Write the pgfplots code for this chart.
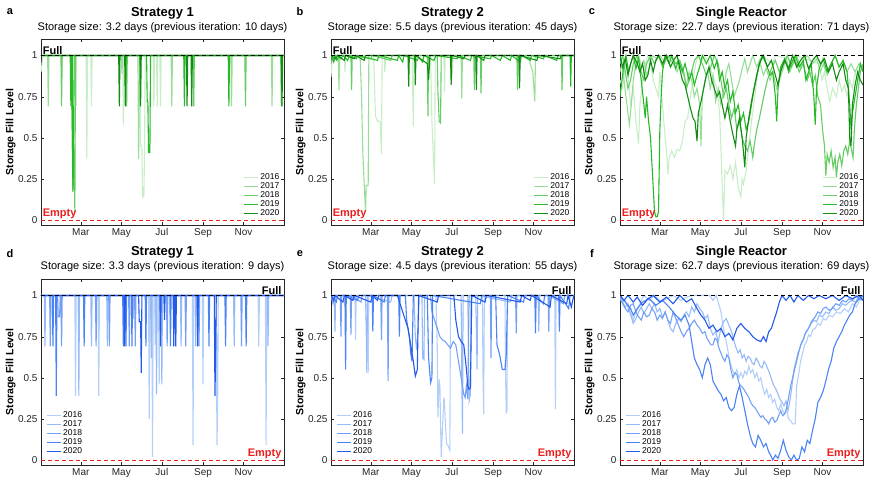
\documentclass[border=0pt]{standalone}
\usepackage{fontspec}
\setmainfont{Liberation Sans}
\usepackage{pgfplots}
\pgfplotsset{compat=1.18}

\definecolor{g16}{RGB}{200,238,200}
\definecolor{g17}{RGB}{150,222,150}
\definecolor{g18}{RGB}{100,205,100}
\definecolor{g19}{RGB}{40,185,40}
\definecolor{g20}{RGB}{20,140,20}
\definecolor{b16}{RGB}{178,207,250}
\definecolor{b17}{RGB}{150,186,248}
\definecolor{b18}{RGB}{115,160,245}
\definecolor{b19}{RGB}{75,130,245}
\definecolor{b20}{RGB}{35,90,235}
\definecolor{emptyred}{RGB}{235,30,30}
\definecolor{axgray}{RGB}{38,38,38}

\pgfplotsset{
  panel/.style={
    scale only axis, width=243pt, height=186pt,
    xmin=0, xmax=366, ymin=-0.03, ymax=1.1,
    xtick={60,121,182,244,305}, xticklabels={Mar,May,Jul,Sep,Nov},
    ytick={0,0.25,0.5,0.75,1}, yticklabels={0,0.25,0.5,0.75,1},
    tick align=inside, major tick length=3pt,
    axis line style={draw=axgray}, tick style={axgray},
    tick label style={font=\fontsize{10}{12}\selectfont, text=axgray},
    ylabel={\textbf{Storage Fill Level}},
    ylabel style={font=\fontsize{10.5}{12}\selectfont, at={(rel axis cs:-0.125,0.5)}, anchor=center},
    every axis plot/.append style={line width=1.1pt},
    legend cell align=left,
    legend image code/.code={\draw[#1, line width=1.1pt] (0pt,0pt) -- (14pt,0pt);},
    legend style={draw=none, fill=none, font=\fontsize{8.5}{8.5}\selectfont,
      row sep=-2.4pt, inner sep=0pt},
  },
  legR/.style={legend style={at={(0.99,0.03)}, anchor=south east}},
  legL/.style={legend style={at={(0.02,0.04)}, anchor=south west}},
  fullline/.style={black, dash pattern=on 4pt off 3pt, line width=1pt, forget plot},
  emptyline/.style={emptyred, dash pattern=on 4pt off 3pt, line width=1pt, forget plot},
}

\begin{document}
\begin{tikzpicture}
\path[use as bounding box] (0,0) rectangle (879pt,482pt);

% ---------------- a: Strategy 1 (green)
\begin{axis}[panel, legR, at={(41pt,257pt)}, anchor=south west]
\addplot[g16] coordinates {(0,0.9)(3,1)(52,1)(53,0.69)(54,1)(68,1)(69,0.37)(70,1)(75,1)(76,0.69)(77,1)(123,1)(124,0.58)(125,1)(149,1)(150,0.45)(152,0.45)(153,0.14)(155,0.14)(156,0.45)(157,1)(169,1)(170,0.69)(171,1)(174,1)(175,0.69)(176,1)(179,1)(180,0.69)(181,1)(366,1)};
\addplot[g17] coordinates {(0,1)(10,1)(11,0.69)(12,1)(121,1)(122,0.89)(123,1)(146,1)(147,0.37)(148,0.72)(149,1)(196,1)(197,0.69)(198,1)(286,1)(287,0.69)(288,1)(347,1)(348,0.69)(349,1)(366,1)};
\addplot[g18] coordinates {(0,1)(30,1)(31,0.69)(32,1)(45,1)(46,0.8)(47,0.47)(48,0.18)(49,0.46)(50,0.33)(51,0.05)(52,1)(128,1)(129,0.69)(130,1)(229,1)(230,0.69)(231,1)(307,1)(308,0.69)(309,1)(361,1)(362,0.69)(363,1)(366,1)};
\addplot[g19] coordinates {(0,1)(44,1)(45,0.69)(46,1)(47,1)(48,0.17)(49,0.33)(50,1)(159,1)(160,0.72)(161,0.72)(162,0.41)(164,0.41)(165,1)(215,1)(216,0.69)(217,1)(282,1)(283,0.69)(284,1)(366,1)};
\addplot[g20] coordinates {(0,1)(117,1)(118,0.69)(119,1)(126,1)(127,0.69)(128,1)(149,1)(150,0.69)(151,1)(219,1)(220,0.69)(221,1)(226,1)(227,0.69)(228,1)(362,1)(363,0.69)(364,1)(366,1)};
\addplot[fullline] coordinates {(0,1)(366,1)};
\addplot[emptyline] coordinates {(0,0)(366,0)};
\legend{2016,2017,2018,2019,2020}
\node[anchor=south west, inner sep=1pt, font=\bfseries\fontsize{11}{12}\selectfont] at (axis cs:1,1) {Full};
\node[anchor=south west, inner sep=1pt, font=\bfseries\fontsize{11}{12}\selectfont, text=emptyred] at (axis cs:1,0) {Empty};
\end{axis}

% ---------------- b: Strategy 2 (green)
\begin{axis}[panel, legR, at={(331pt,257pt)}, anchor=south west]
\addplot[g16] coordinates {(0,0.87)(2,1)(20,1)(21,0.9)(22,1)(64,1)(65,0.9)(67,0.63)(70,0.6)(74,0.6)(76,0.4)(77,1)(80,1)(81,0.9)(83,1)(122,1)(123,0.8)(124,0.57)(125,1)(150,1)(152,0.6)(154,0.4)(156,0.22)(157,1)(170,1)(171,0.78)(172,1)(180,1)(181,0.85)(183,0.9)(184,1)(366,1)};
\addplot[g17] coordinates {(0,1)(11,1)(12,0.79)(13,1)(42,1)(44,0.98)(46,0.75)(48,0.4)(50,0.22)(52,0.05)(53,0.21)(56,0.21)(57,1)(196,1)(197,0.74)(198,1)(298,1)(300,0.95)(304,0.9)(307,0.72)(308,1)(366,1)};
\addplot[g18] coordinates {(0,1)(5,0.97)(8,1)(30,1)(31,0.79)(32,1)(60,0.98)(62,1)(90,0.97)(92,1)(145,1)(146,0.63)(147,1)(160,1)(161,0.78)(163,0.6)(165,0.59)(166,1)(215,1)(216,0.79)(217,1)(225,1)(226,0.77)(227,1)(280,1)(281,0.79)(282,1)(347,1)(348,0.79)(349,1)(366,1)};
\addplot[g19] coordinates {(0,1)(4,0.96)(6,1)(9,0.97)(12,1)(15,0.98)(18,1)(25,0.97)(28,1)(38,0.98)(40,1)(70,0.97)(72,1)(100,0.97)(102,1)(108,0.96)(110,1)(130,0.97)(132,0.99)(138,0.96)(140,1)(155,0.97)(158,1)(190,0.98)(192,1)(210,0.97)(212,1)(240,0.98)(242,1)(255,0.97)(258,1)(270,0.97)(272,1)(285,0.96)(287,1)(300,0.97)(302,1)(320,0.98)(322,1)(340,0.97)(342,1)(360,1)(361,0.81)(362,1)(366,1)};
\addplot[g20] coordinates {(0,1)(7,0.98)(10,1)(20,0.97)(22,1)(35,0.98)(37,1)(50,0.97)(52,1)(116,1)(117,0.81)(118,1)(126,1)(127,0.82)(128,1)(145,0.95)(147,0.85)(149,1)(180,1)(181,0.82)(182,1)(200,0.98)(202,1)(218,1)(219,0.79)(220,1)(230,0.97)(232,1)(283,1)(284,0.8)(285,1)(310,0.97)(312,1)(345,0.98)(347,1)(366,1)};
\addplot[fullline] coordinates {(0,1)(366,1)};
\addplot[emptyline] coordinates {(0,0)(366,0)};
\legend{2016,2017,2018,2019,2020}
\node[anchor=south west, inner sep=1pt, font=\bfseries\fontsize{11}{12}\selectfont] at (axis cs:1,1) {Full};
\node[anchor=south west, inner sep=1pt, font=\bfseries\fontsize{11}{12}\selectfont, text=emptyred] at (axis cs:1,0) {Empty};
\end{axis}

% ---------------- c: Single Reactor (green)
\begin{axis}[panel, legR, at={(620pt,257pt)}, anchor=south west]
\addplot[g16] coordinates {(0,0.85)(4,0.8)(8,0.95)(12,0.9)(16,0.7)(20,0.8)(24,0.6)(28,0.46)(30,0.7)(34,0.85)(38,0.95)(42,1)(46,0.95)(50,0.85)(54,0.8)(58,0.75)(60,0.9)(62,0.8)(64,0.7)(66,0.6)(68,0.5)(70,0.42)(72,0.28)(74,0.38)(78,0.42)(82,0.38)(86,0.43)(90,0.42)(94,0.48)(98,0.6)(102,0.62)(106,0.75)(110,0.85)(114,0.95)(118,1)(122,0.95)(126,1)(132,0.97)(138,0.9)(142,0.85)(146,0.8)(150,0.65)(152,0.45)(154,0.2)(156,0)(158,0.3)(162,0.28)(166,0.33)(170,0.25)(174,0.35)(178,0.2)(182,0.14)(184,0.25)(186,0.22)(190,0.3)(194,0.45)(198,0.6)(202,0.72)(206,0.85)(210,0.95)(214,1)(230,0.95)(234,1)(260,0.97)(264,1)(300,0.95)(304,0.85)(308,0.9)(312,0.8)(316,0.72)(320,0.8)(326,0.75)(330,0.85)(334,0.78)(338,0.82)(342,0.75)(346,0.85)(350,0.8)(354,0.9)(358,0.85)(362,0.95)(366,0.9)};
\addplot[g17] coordinates {(0,0.9)(3,0.95)(6,0.85)(9,0.75)(12,0.65)(14,0.58)(17,0.7)(20,0.85)(24,0.95)(28,1)(32,0.93)(36,0.97)(40,0.88)(44,0.92)(48,1)(56,0.98)(60,1)(66,0.97)(72,1)(80,0.95)(86,0.9)(90,0.95)(96,0.88)(100,0.82)(104,0.9)(108,0.85)(112,0.75)(116,0.8)(120,0.7)(122,0.45)(124,0.75)(128,0.85)(132,0.9)(136,0.8)(140,0.88)(144,0.72)(148,0.8)(152,0.7)(156,0.78)(160,0.9)(164,0.95)(168,0.85)(172,0.75)(176,0.8)(180,0.85)(184,0.92)(188,0.98)(192,0.9)(196,0.95)(200,1)(206,0.93)(210,0.97)(216,0.88)(220,0.92)(226,0.85)(230,0.9)(236,0.8)(240,0.85)(246,0.92)(250,0.98)(256,0.9)(260,0.95)(266,1)(272,0.93)(276,0.97)(282,1)(290,0.95)(296,0.98)(302,0.9)(306,0.95)(312,0.88)(318,0.95)(324,1)(330,0.93)(336,0.97)(342,0.9)(348,0.95)(354,0.9)(360,0.95)(366,0.92)};
\addplot[g18] coordinates {(0,0.95)(4,1)(8,0.9)(12,0.8)(16,0.85)(20,0.95)(26,1)(32,0.9)(36,0.85)(40,0.95)(46,1)(52,0.95)(58,1)(64,0.93)(70,0.98)(76,1)(84,0.95)(90,0.97)(96,0.9)(100,0.8)(104,0.85)(108,0.9)(112,0.97)(118,1)(124,0.95)(130,0.88)(136,0.92)(142,1)(148,0.95)(152,0.85)(156,0.75)(160,0.8)(164,0.7)(168,0.62)(172,0.68)(176,0.55)(180,0.6)(184,0.5)(188,0.45)(192,0.42)(196,0.48)(200,0.38)(202,0.45)(206,0.55)(210,0.62)(214,0.7)(218,0.78)(222,0.85)(228,0.92)(234,0.97)(240,0.9)(246,0.95)(252,1)(258,0.93)(264,0.97)(270,0.9)(276,0.95)(282,0.85)(286,0.9)(290,0.82)(294,0.88)(298,0.75)(302,0.7)(305,0.55)(308,0.45)(310,0.27)(312,0.4)(315,0.35)(318,0.42)(321,0.32)(324,0.38)(326,0.26)(328,0.35)(331,0.4)(334,0.33)(337,0.42)(340,0.45)(343,0.4)(346,0.48)(349,0.42)(351,0.38)(353,0.55)(356,0.7)(359,0.8)(362,0.9)(366,0.95)};
\addplot[g19] coordinates {(0,0.75)(3,0.85)(6,0.95)(9,1)(13,0.9)(16,0.95)(20,1)(24,0.92)(28,0.98)(32,0.85)(36,0.7)(38,0.62)(40,0.75)(43,0.6)(46,0.5)(48,0.35)(50,0.2)(52,0.05)(54,0.02)(56,0.02)(58,0.05)(60,0.55)(62,0.75)(64,0.9)(68,1)(74,0.95)(78,1)(84,0.92)(88,0.97)(94,0.9)(98,0.95)(104,0.85)(108,0.9)(112,0.82)(116,0.88)(120,0.93)(124,1)(130,0.95)(136,1)(142,0.92)(146,0.97)(150,0.85)(154,0.9)(158,0.8)(162,0.85)(166,0.72)(170,0.78)(174,0.65)(178,0.7)(182,0.6)(186,0.65)(190,0.55)(194,0.6)(198,0.7)(202,0.8)(206,0.88)(210,0.95)(214,1)(220,0.95)(226,0.88)(230,0.9)(234,0.75)(236,0.6)(238,0.8)(242,0.93)(248,0.98)(254,0.9)(258,0.95)(264,1)(270,0.93)(276,0.97)(280,0.85)(284,0.9)(288,0.95)(292,0.75)(294,0.58)(296,0.8)(300,0.92)(306,0.98)(312,0.9)(318,0.95)(324,1)(330,0.93)(336,0.97)(342,0.9)(346,0.7)(348,0.55)(350,0.65)(354,0.75)(358,0.85)(362,0.95)(366,0.9)};
\addplot[g20] coordinates {(0,1)(4,0.93)(8,0.98)(12,0.88)(16,0.95)(20,1)(26,0.95)(30,0.9)(34,0.95)(38,0.85)(42,0.88)(46,0.97)(50,0.9)(54,0.97)(58,1)(64,0.95)(70,1)(76,0.93)(82,0.98)(86,1)(90,0.92)(94,0.85)(98,0.82)(102,0.75)(106,0.68)(110,0.62)(113,0.6)(116,0.48)(118,0.65)(122,0.72)(126,0.8)(130,0.88)(134,0.93)(138,0.85)(142,0.8)(146,0.75)(150,0.78)(154,0.7)(158,0.62)(162,0.7)(166,0.6)(170,0.52)(174,0.45)(176,0.55)(180,0.62)(184,0.5)(188,0.32)(190,0.5)(194,0.62)(198,0.72)(202,0.8)(206,0.88)(210,0.95)(216,1)(222,0.93)(228,0.97)(234,0.88)(238,0.82)(242,0.9)(248,0.97)(254,0.92)(260,1)(266,0.93)(272,0.97)(278,1)(284,0.92)(290,0.97)(296,1)(302,0.95)(308,0.98)(314,0.9)(320,0.95)(326,0.85)(330,0.9)(336,0.95)(340,0.85)(344,0.8)(346,0.5)(348,0.45)(350,0.7)(354,0.82)(358,0.9)(362,0.85)(366,0.82)};
\addplot[fullline] coordinates {(0,1)(366,1)};
\addplot[emptyline] coordinates {(0,0)(366,0)};
\legend{2016,2017,2018,2019,2020}
\node[anchor=south west, inner sep=1pt, font=\bfseries\fontsize{11}{12}\selectfont] at (axis cs:1,1) {Full};
\node[anchor=south west, inner sep=1pt, font=\bfseries\fontsize{11}{12}\selectfont, text=emptyred] at (axis cs:1,0) {Empty};
\end{axis}

% ---------------- d: Strategy 1 (blue)
\begin{axis}[panel, legL, at={(41pt,17pt)}, anchor=south west]
\addplot[b16] coordinates {(0,1)(51,1)(52,0.39)(53,1)(86,1)(87,0.39)(88,1)(162,1)(163,0.25)(164,1)(167,1)(168,0.02)(169,1)(171,1)(172,0.7)(173,1)(177,1)(178,0.46)(179,1)(228,1)(229,0.09)(230,1)(243,1)(244,0.46)(245,1)(264,1)(265,0.09)(266,0.3)(267,1)(327,1)(328,0.69)(329,1)(338,1)(339,0.09)(340,1)(366,1)};
\addplot[b17] coordinates {(0,1)(5,1)(6,0.69)(7,1)(56,1)(57,0.39)(58,1)(75,1)(76,0.69)(77,1)(99,1)(100,0.69)(101,1)(138,1)(139,0.86)(140,1)(165,1)(166,0.62)(167,1)(173,1)(174,0.4)(175,1)(181,1)(182,0.46)(183,1)(210,1)(211,0.69)(212,1)(232,1)(233,0.69)(234,1)(290,1)(291,0.69)(292,1)(341,1)(342,0.69)(343,1)(366,1)};
\addplot[b18] coordinates {(0,1)(13,1)(14,0.69)(15,1)(25,1)(26,0.87)(28,0.87)(29,1)(30,1)(31,0.69)(32,1)(82,1)(83,0.69)(84,1)(102,1)(103,0.69)(104,1)(132,1)(133,0.69)(134,1)(141,1)(142,0.69)(143,1)(189,1)(190,0.69)(191,1)(217,1)(218,0.69)(219,1)(237,1)(238,0.69)(239,1)(301,1)(302,0.69)(303,1)(366,1)};
\addplot[b19] coordinates {(0,1)(17,1)(18,0.69)(19,1)(22,1)(23,0.39)(24,1)(64,1)(65,0.69)(66,1)(123,1)(124,0.69)(125,1)(127,1)(128,0.69)(129,1)(136,1)(137,0.69)(138,1)(157,1)(158,0.69)(159,1)(194,1)(195,0.69)(196,1)(252,1)(253,0.69)(254,1)(277,1)(278,0.69)(279,1)(308,1)(309,0.69)(310,1)(366,1)};
\addplot[b20] coordinates {(0,1)(125,1)(126,0.69)(127,1)(147,1)(148,0.84)(150,0.84)(151,0.53)(152,1)(179,1)(180,0.69)(181,1)(185,1)(186,0.85)(187,1)(199,1)(200,0.69)(201,1)(202,1)(203,0.69)(204,1)(235,1)(236,0.69)(237,1)(261,1)(262,0.39)(263,0.62)(264,1)(366,1)};
\addplot[fullline] coordinates {(0,1)(366,1)};
\addplot[emptyline] coordinates {(0,0)(366,0)};
\legend{2016,2017,2018,2019,2020}
\node[anchor=south east, inner sep=1pt, font=\bfseries\fontsize{11}{12}\selectfont] at (axis cs:364,1) {Full};
\node[anchor=south east, inner sep=1pt, font=\bfseries\fontsize{11}{12}\selectfont, text=emptyred] at (axis cs:364,0) {Empty};
\end{axis}

% ---------------- e: Strategy 2 (blue)
\begin{axis}[panel, legL, at={(331pt,17pt)}, anchor=south west]
\addplot[b16] coordinates {(0,1)(36,1)(37,0.73)(38,1)(55,1)(56,0.53)(57,1)(158,1)(160,0.7)(161,0.26)(163,0.49)(164,0.45)(166,0.02)(168,0.2)(170,0.38)(171,0.35)(172,0.25)(174,0.1)(176,0.09)(178,0.07)(179,0.06)(180,1)(228,1)(229,0.5)(230,0.28)(231,1)(262,1)(263,0.5)(264,0.29)(265,0.3)(266,1)(337,1)(338,0.31)(339,1)(366,1)};
\addplot[b17] coordinates {(0,1)(5,1)(6,0.78)(7,1)(52,1)(53,0.8)(54,0.53)(55,1)(90,0.96)(92,1)(125,1)(127,0.75)(129,0.67)(131,0.8)(133,1)(137,1)(138,0.62)(140,0.61)(141,1)(196,1)(197,0.5)(198,0.16)(199,1)(206,1)(208,0.36)(210,0.4)(211,1)(218,1)(220,0.55)(221,1)(270,0.96)(272,1)(312,1)(313,0.78)(314,1)(366,1)};
\addplot[b18] coordinates {(0,1)(3,0.95)(5,1)(14,1)(15,0.75)(16,1)(29,1)(30,0.76)(31,1)(45,0.96)(47,1)(75,1)(76,0.73)(77,1)(85,1)(86,0.48)(87,1)(150,1)(152,0.9)(156,0.85)(160,0.8)(164,0.75)(168,0.73)(172,0.72)(176,0.7)(180,0.68)(184,0.72)(188,0.7)(192,0.6)(196,0.5)(200,0.4)(202,0.38)(204,0.45)(206,0.37)(208,1)(240,1)(241,0.62)(242,1)(278,1)(279,0.77)(280,1)(327,1)(328,0.78)(329,1)(350,0.95)(352,1)(366,1)};
\addplot[b19] coordinates {(0,1)(8,0.96)(10,1)(21,1)(22,0.55)(23,1)(40,0.97)(42,1)(62,1)(63,0.78)(64,1)(80,0.96)(82,1)(102,1)(103,0.75)(104,1)(112,1)(114,0.85)(118,0.75)(120,0.65)(122,0.6)(124,1)(145,1)(147,0.62)(150,0.47)(152,0.5)(153,1)(225,0.95)(227,1)(248,1)(250,0.7)(254,0.64)(258,0.55)(262,0.55)(264,0.64)(266,1)(290,0.96)(292,1)(307,1)(308,0.77)(309,1)(320,0.95)(322,1)(343,1)(344,0.78)(345,1)(358,0.92)(360,1)(366,1)};
\addplot[b20] coordinates {(0,1)(4,0.97)(6,1)(18,0.96)(20,1)(33,0.97)(35,1)(60,0.96)(62,1)(70,0.97)(72,1)(100,1)(104,0.95)(108,0.9)(112,0.85)(116,0.8)(120,0.7)(124,0.6)(127,0.51)(130,0.55)(132,1)(160,0.96)(162,1)(185,1)(188,0.85)(192,0.75)(196,0.72)(200,0.7)(204,0.55)(206,0.45)(208,0.43)(210,0.44)(212,1)(232,0.96)(234,1)(285,0.96)(287,1)(300,0.97)(302,1)(330,0.93)(332,1)(355,0.95)(357,1)(362,0.93)(364,0.97)(366,1)};
\addplot[fullline] coordinates {(0,1)(366,1)};
\addplot[emptyline] coordinates {(0,0)(366,0)};
\legend{2016,2017,2018,2019,2020}
\node[anchor=south east, inner sep=1pt, font=\bfseries\fontsize{11}{12}\selectfont] at (axis cs:364,1) {Full};
\node[anchor=south east, inner sep=1pt, font=\bfseries\fontsize{11}{12}\selectfont, text=emptyred] at (axis cs:364,0) {Empty};
\end{axis}

% ---------------- f: Single Reactor (blue)
\begin{axis}[panel, legL, at={(620pt,17pt)}, anchor=south west]
\addplot[b16] coordinates {(0,1)(4,0.96)(8,0.97)(12,0.92)(16,0.9)(20,0.85)(24,0.9)(28,0.93)(32,0.97)(36,1)(44,0.97)(52,1)(62,0.96)(70,0.98)(80,1)(92,0.97)(100,0.99)(110,1)(135,1)(140,0.97)(145,1)(148,0.96)(152,0.9)(155,0.82)(158,0.76)(161,0.7)(164,0.63)(167,0.58)(170,0.54)(173,0.52)(176,0.55)(179,0.5)(182,0.53)(185,0.5)(188,0.54)(191,0.52)(194,0.57)(197,0.53)(200,0.55)(203,0.5)(206,0.53)(209,0.48)(212,0.5)(215,0.44)(218,0.4)(221,0.43)(224,0.38)(227,0.4)(230,0.35)(233,0.37)(236,0.32)(239,0.3)(242,0.34)(245,0.3)(248,0.28)(251,0.3)(254,0.25)(257,0.24)(260,0.22)(264,0.22)(266,0.45)(269,0.52)(272,0.6)(275,0.65)(278,0.7)(281,0.72)(284,0.76)(287,0.75)(290,0.79)(294,0.8)(298,0.83)(302,0.82)(306,0.86)(310,0.85)(315,0.88)(320,0.87)(326,0.9)(332,0.89)(338,0.92)(344,0.9)(350,0.95)(356,0.93)(362,0.98)(366,1)};
\addplot[b17] coordinates {(0,1)(4,0.96)(8,0.93)(12,0.95)(16,0.88)(20,0.83)(24,0.86)(28,0.9)(32,0.93)(36,0.89)(40,0.92)(44,0.95)(48,0.92)(52,0.95)(56,0.9)(60,0.92)(64,0.87)(68,0.9)(72,0.85)(76,0.8)(80,0.78)(84,0.83)(88,0.86)(92,0.84)(96,0.88)(100,0.9)(104,0.87)(108,0.93)(112,0.9)(116,0.95)(120,0.92)(124,0.9)(128,0.86)(132,0.88)(136,0.8)(140,0.76)(144,0.78)(148,0.72)(152,0.8)(156,0.84)(160,0.86)(164,0.82)(168,0.78)(172,0.72)(175,0.68)(178,0.65)(181,0.67)(184,0.62)(187,0.64)(190,0.6)(193,0.63)(196,0.62)(199,0.59)(202,0.58)(205,0.62)(208,0.6)(211,0.57)(214,0.56)(217,0.6)(220,0.58)(223,0.55)(226,0.52)(229,0.48)(232,0.45)(235,0.43)(238,0.4)(241,0.37)(244,0.35)(247,0.33)(250,0.36)(253,0.3)(256,0.36)(259,0.45)(262,0.55)(265,0.6)(268,0.65)(271,0.68)(274,0.72)(277,0.74)(280,0.78)(284,0.8)(288,0.83)(292,0.85)(296,0.84)(300,0.88)(305,0.87)(310,0.9)(315,0.89)(320,0.93)(325,0.91)(330,0.92)(335,0.95)(340,0.94)(345,0.96)(350,0.97)(355,0.96)(360,1)(366,0.98)};
\addplot[b18] coordinates {(0,0.98)(4,0.95)(8,0.92)(12,0.9)(16,0.94)(20,0.95)(24,0.9)(28,0.87)(32,0.85)(36,0.9)(40,0.87)(44,0.88)(48,0.92)(52,0.9)(56,0.85)(60,0.88)(64,0.86)(68,0.9)(72,0.85)(76,0.83)(80,0.9)(84,0.86)(88,0.82)(92,0.78)(96,0.75)(100,0.78)(104,0.8)(108,0.83)(112,0.85)(116,0.82)(120,0.8)(124,0.77)(128,0.78)(131,0.74)(134,0.72)(137,0.7)(140,0.7)(143,0.74)(146,0.73)(149,0.68)(152,0.65)(155,0.62)(158,0.6)(161,0.64)(164,0.62)(167,0.55)(170,0.5)(173,0.53)(176,0.52)(179,0.47)(182,0.45)(185,0.44)(188,0.42)(191,0.4)(194,0.38)(197,0.35)(200,0.33)(203,0.32)(206,0.3)(209,0.28)(212,0.26)(215,0.27)(218,0.25)(221,0.24)(224,0.22)(227,0.25)(230,0.26)(233,0.23)(236,0.24)(239,0.27)(242,0.3)(245,0.27)(248,0.28)(251,0.32)(254,0.38)(257,0.45)(260,0.5)(263,0.55)(266,0.6)(269,0.65)(272,0.7)(275,0.72)(278,0.76)(281,0.78)(284,0.8)(287,0.83)(290,0.85)(294,0.87)(298,0.9)(302,0.89)(306,0.92)(310,0.93)(315,0.91)(320,0.92)(325,0.95)(330,0.94)(335,0.97)(340,0.96)(345,0.98)(350,0.97)(355,1)(360,0.98)(366,0.97)};
\addplot[b19] coordinates {(0,1)(8,0.96)(16,0.92)(20,0.88)(26,0.92)(34,0.96)(44,0.98)(54,0.94)(64,0.97)(74,0.93)(84,0.88)(92,0.85)(98,0.88)(104,0.82)(108,0.72)(112,0.62)(116,0.58)(120,0.55)(124,0.5)(128,0.58)(132,0.62)(136,0.58)(140,0.48)(144,0.45)(148,0.42)(152,0.4)(156,0.36)(160,0.38)(164,0.32)(168,0.3)(172,0.32)(176,0.4)(180,0.45)(184,0.38)(188,0.3)(192,0.22)(196,0.15)(200,0.1)(204,0.08)(208,0.15)(212,0.12)(216,0.08)(220,0.1)(224,0.05)(228,0.02)(230,0)(234,0.03)(238,0.01)(242,0.06)(246,0.12)(250,0.06)(254,0.02)(258,0)(262,0.03)(266,0)(270,0.01)(274,0.08)(278,0.05)(282,0.12)(286,0.1)(290,0.18)(294,0.25)(298,0.35)(302,0.38)(306,0.42)(310,0.48)(314,0.55)(318,0.6)(322,0.68)(326,0.72)(330,0.75)(334,0.78)(338,0.82)(342,0.85)(346,0.88)(350,0.9)(354,0.95)(360,0.98)(366,1)};
\addplot[b20] coordinates {(0,1)(6,0.97)(12,1)(20,0.96)(26,0.99)(34,0.94)(42,0.98)(50,1)(60,0.96)(70,0.99)(80,0.95)(90,1)(100,0.96)(108,0.98)(116,0.92)(122,0.88)(128,0.85)(134,0.8)(140,0.82)(146,0.78)(152,0.8)(158,0.75)(164,0.77)(170,0.73)(176,0.8)(182,0.83)(188,0.8)(194,0.78)(200,0.75)(206,0.73)(212,0.72)(216,0.75)(220,0.72)(224,0.78)(228,0.8)(232,0.85)(236,0.9)(240,0.96)(244,1)(250,0.97)(256,1)(262,0.96)(268,1)(276,0.97)(284,1)(292,0.98)(300,1)(310,0.98)(320,1)(330,0.97)(340,1)(350,0.98)(360,1)(366,0.97)};
\addplot[fullline] coordinates {(0,1)(366,1)};
\addplot[emptyline] coordinates {(0,0)(366,0)};
\legend{2016,2017,2018,2019,2020}
\node[anchor=south east, inner sep=1pt, font=\bfseries\fontsize{11}{12}\selectfont] at (axis cs:364,1) {Full};
\node[anchor=south east, inner sep=1pt, font=\bfseries\fontsize{11}{12}\selectfont, text=emptyred] at (axis cs:364,0) {Empty};
\end{axis}

% ---------------- titles and panel letters
\tikzset{ttl/.style={font=\bfseries\fontsize{13}{14}\selectfont},
         sub/.style={font=\fontsize{11}{12}\selectfont},
         lett/.style={font=\bfseries\fontsize{11}{12}\selectfont}}
\node[ttl] at (162.5pt,469pt) {Strategy 1};
\node[sub] at (162.5pt,454pt) {Storage size: 3.2 days (previous iteration: 10 days)};
\node[ttl] at (452.5pt,469pt) {Strategy 2};
\node[sub] at (452.5pt,454pt) {Storage size: 5.5 days (previous iteration: 45 days)};
\node[ttl] at (741.5pt,469pt) {Single Reactor};
\node[sub] at (741.5pt,454pt) {Storage size: 22.7 days (previous iteration: 71 days)};
\node[ttl] at (162.5pt,230pt) {Strategy 1};
\node[sub] at (162.5pt,215pt) {Storage size: 3.3 days (previous iteration: 9 days)};
\node[ttl] at (452.5pt,230pt) {Strategy 2};
\node[sub] at (452.5pt,215pt) {Storage size: 4.5 days (previous iteration: 55 days)};
\node[ttl] at (741.5pt,230pt) {Single Reactor};
\node[sub] at (741.5pt,215pt) {Storage size: 62.7 days (previous iteration: 69 days)};
\node[lett] at (10pt,470pt) {a};
\node[lett] at (300pt,470pt) {b};
\node[lett] at (592pt,470pt) {c};
\node[lett] at (10pt,228pt) {d};
\node[lett] at (300pt,228pt) {e};
\node[lett] at (592pt,228pt) {f};
\end{tikzpicture}
\end{document}
